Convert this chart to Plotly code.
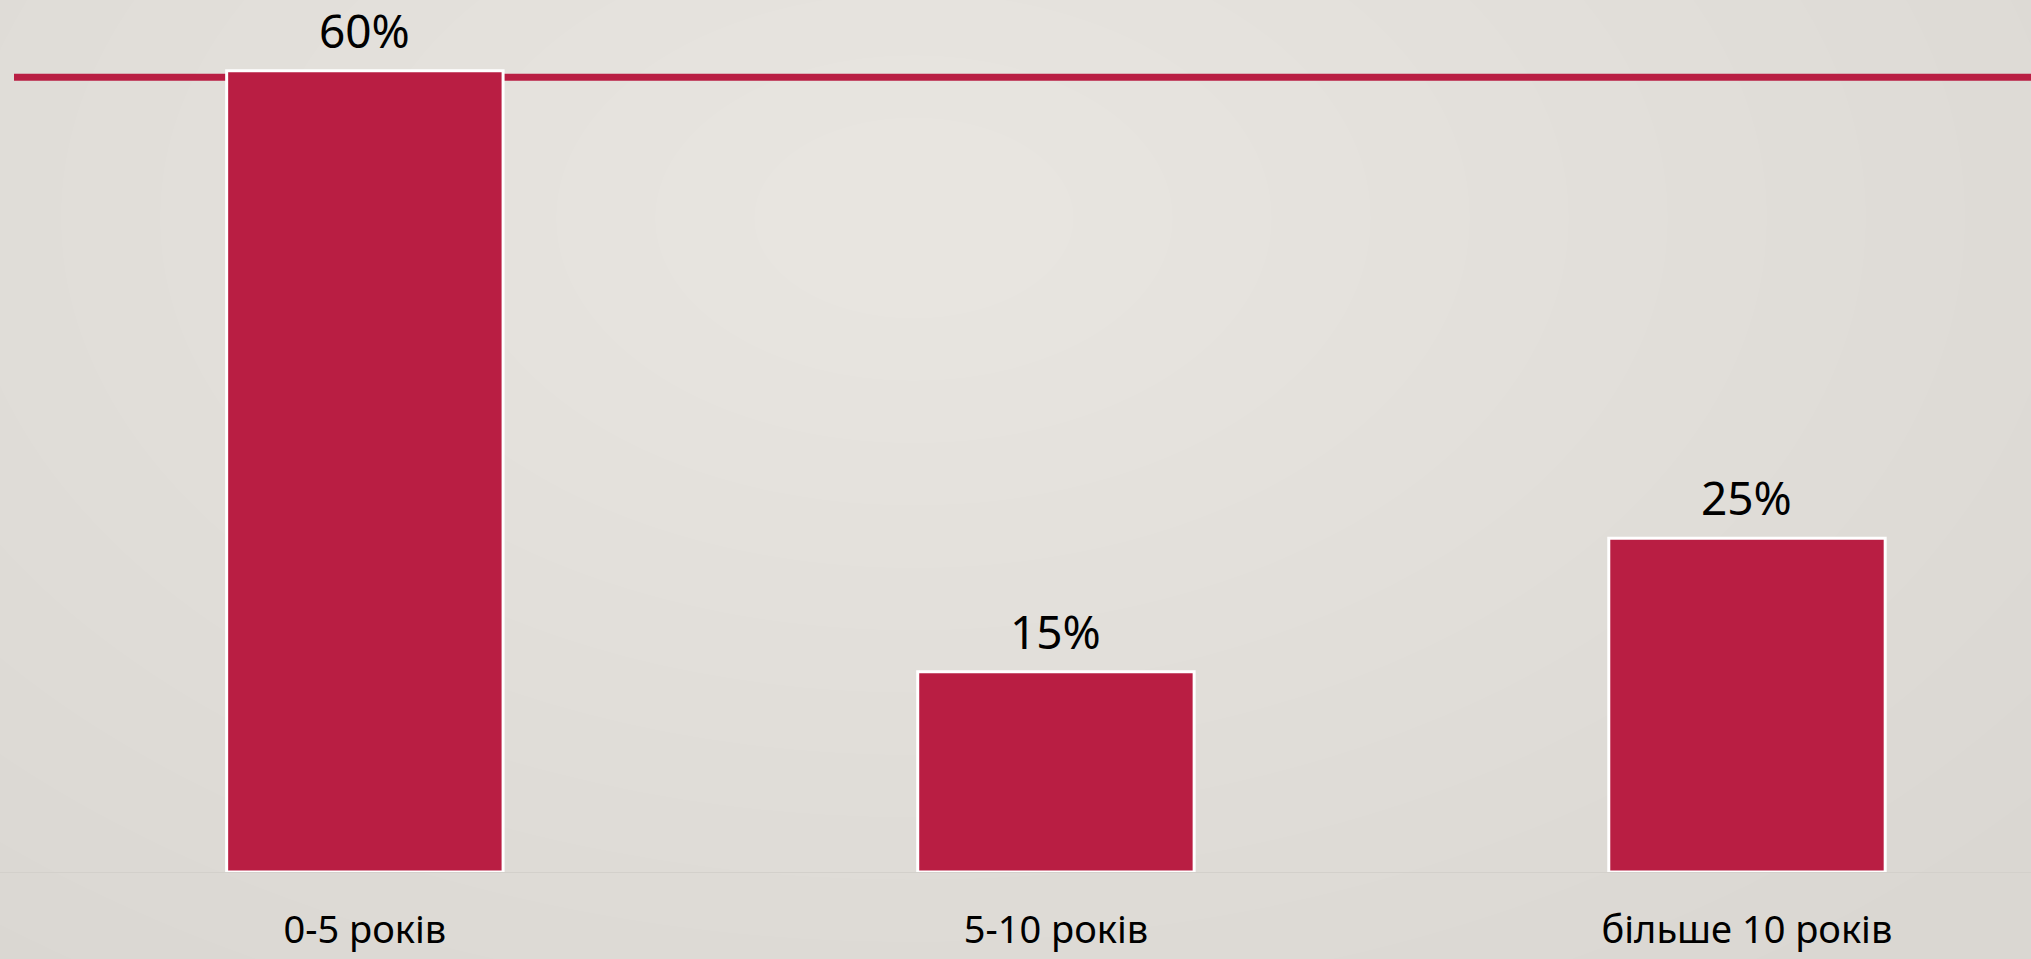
import plotly.graph_objects as go

# data
categories = ['0-5 років', '5-10 років', 'більше 10 років']
shares = [60, 15, 25]
share_labels = ['60%', '15%', '25%']

BAR_COLOR = '#B91E43'
BG_COLOR = '#DAD7D2'

fig = go.Figure()

fig.add_trace(go.Bar(
    x=categories,
    y=shares,
    marker=dict(color=BAR_COLOR, line=dict(color='white', width=3)),
    hoverinfo='skip',
    showlegend=False
))

# value labels above bars
for cat, val, lab in zip(categories, shares, share_labels):
    fig.add_annotation(
        x=cat, y=val, text=lab,
        showarrow=False, yanchor='bottom', yshift=8,
        font=dict(size=46, color='black')
    )

# soft radial light in the background (stacked translucent ellipses)
shapes = []
for i in range(14):
    r = 0.95 - i * 0.065
    shapes.append(dict(
        type='circle', xref='paper', yref='paper', layer='below',
        x0=0.45 - r * 0.75, x1=0.45 + r * 0.75,
        y0=0.75 - r * 1.1, y1=0.75 + r * 1.1,
        fillcolor='rgba(255,255,255,0.045)', line=dict(width=0)
    ))

# red title rule across the slide
shapes.append(dict(
    type='line', xref='paper', yref='paper', layer='below',
    x0=14 / 2031, x1=1, y0=0.9115, y1=0.9115,
    line=dict(color=BAR_COLOR, width=7)
))

fig.update_layout(
    width=2031,
    height=959,
    margin=dict(l=0, r=0, t=0, b=87),
    paper_bgcolor=BG_COLOR,
    plot_bgcolor='rgba(0,0,0,0)',
    bargap=0.6,
    font=dict(family='Noto Sans, Open Sans, sans-serif', color='black'),
    shapes=shapes,
    xaxis=dict(
        range=[-0.528, 2.411],
        automargin=False,
        showgrid=False,
        zeroline=False,
        showline=True,
        linecolor='#D3D0CB',
        linewidth=1,
        ticks='',
        ticklabelstandoff=24,
        tickfont=dict(size=38, color='black')
    ),
    yaxis=dict(
        range=[0, 65.3],
        automargin=False,
        visible=False,
        showgrid=False,
        zeroline=False
    )
)

fig.write_html(
    'out.html',
    config={'displayModeBar': False},
    post_script="document.body.style.margin='0';document.body.style.overflow='hidden';"
)
